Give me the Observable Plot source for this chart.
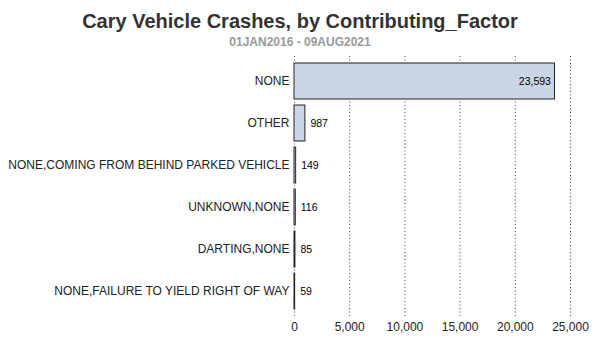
<!DOCTYPE html>
<html>
<head>
<meta charset="utf-8">
<script src="https://cdn.jsdelivr.net/npm/d3@7"></script>
<script src="https://cdn.jsdelivr.net/npm/@observablehq/plot@0.6"></script>
<style>
  body { margin: 0; background: #fff; font-family: "Liberation Sans", Arial, sans-serif; }
  #wrap { width: 600px; }
  .title { margin-top: 9px; height: 24px; line-height: 24px; text-align: center; font-weight: bold; font-size: 20px; color: #333; }
  .subtitle { height: 17px; line-height: 19px; text-align: center; font-weight: bold; font-size: 12px; color: #999; }
</style>
</head>
<body>
<div id="wrap">
  <div class="title">Cary Vehicle Crashes, by Contributing_Factor</div>
  <div class="subtitle">01JAN2016 - 09AUG2021</div>
  <div id="chart"></div>
</div>
<script>
const factors = [
  "NONE",
  "OTHER",
  "NONE,COMING FROM BEHIND PARKED VEHICLE",
  "UNKNOWN,NONE",
  "DARTING,NONE",
  "NONE,FAILURE TO YIELD RIGHT OF WAY"
];
const counts = [23593, 987, 149, 116, 85, 59];
const xTicks = [0, 5000, 10000, 15000, 20000, 25000];

const data = factors.map((f, i) => ({factor: f, count: counts[i]}));
const fmt = d3.format(",");
const maxCount = d3.max(counts);

const chart = Plot.plot({
  width: 600,
  height: 300,
  marginTop: 6,
  marginBottom: 34,
  marginLeft: 294,
  marginRight: 30,
  style: { fontFamily: "'Liberation Sans', Arial, sans-serif", fontSize: "12px", color: "#333", background: "#fff", overflow: "visible" },
  x: { domain: [0, 25000], ticks: xTicks, tickFormat: fmt, label: null },
  y: { domain: factors, label: null, padding: 0.15 },
  marks: [
    Plot.gridX(xTicks, { stroke: "#444", strokeOpacity: 1, strokeDasharray: "1,2.5" }),
    Plot.barX(data, { y: "factor", x: "count", fill: "#cad5e5", stroke: "#222", strokeWidth: 1 }),
    Plot.text(data.filter(d => d.count === maxCount), { y: "factor", x: "count", text: d => fmt(d.count), textAnchor: "end", dx: -4, fontSize: 10.5, fill: "#000" }),
    Plot.text(data.filter(d => d.count !== maxCount), { y: "factor", x: "count", text: d => fmt(d.count), textAnchor: "start", dx: 5, fontSize: 10.5, fill: "#000" }),
    Plot.axisY({ tickSize: 0, tickPadding: 5, fontSize: 12, fill: "#222" }),
    Plot.axisX({ ticks: xTicks, tickFormat: fmt, tickSize: 0, tickPadding: 6, fontSize: 12, fill: "#222", label: null })
  ]
});
document.getElementById("chart").appendChild(chart);
</script>
</body>
</html>
